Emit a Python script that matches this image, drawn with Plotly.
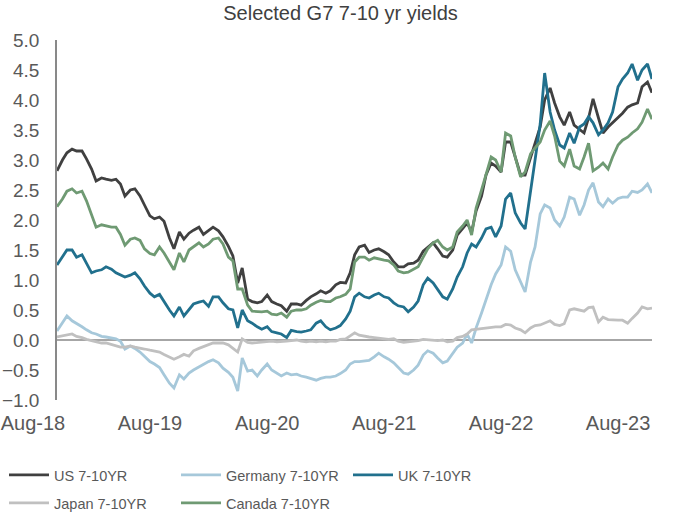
import datetime as dt
import plotly.graph_objects as go

# semi-monthly observation dates (15th and 1st), Aug-2018 .. Sep-2023
dates = []
y, m = 2018, 8
while len(dates) < 123:
    dates.append(dt.date(y, m, 15))
    m += 1
    if m > 12:
        m, y = 1, y + 1
    if len(dates) < 123:
        dates.append(dt.date(y, m, 1))

us = [2.82, 3.00, 3.12, 3.18, 3.15, 3.15, 3.02, 2.85, 2.65, 2.70,
      2.68, 2.66, 2.68, 2.60, 2.40, 2.50, 2.52, 2.40, 2.25, 2.07,
      2.02, 2.05, 1.98, 1.70, 1.52, 1.80, 1.68, 1.78, 1.83, 1.88,
      1.76, 1.83, 1.88, 1.82, 1.72, 1.56, 1.40, 0.95, 1.20, 0.68,
      0.64, 0.62, 0.64, 0.75, 0.64, 0.60, 0.57, 0.48, 0.60, 0.60,
      0.58, 0.66, 0.72, 0.77, 0.82, 0.78, 0.82, 0.92, 0.96, 0.95,
      1.12, 1.42, 1.55, 1.58, 1.46, 1.50, 1.52, 1.47, 1.42, 1.30,
      1.22, 1.22, 1.27, 1.28, 1.33, 1.48, 1.55, 1.62, 1.52, 1.40,
      1.38, 1.50, 1.75, 1.85, 1.95, 1.80, 2.15, 2.40, 2.75, 2.95,
      2.90, 2.80, 3.30, 3.30, 3.05, 2.75, 2.75, 3.05, 3.30, 3.55,
      4.00, 4.20, 3.95, 3.72, 3.58, 3.80, 3.58, 3.50, 3.45, 3.70,
      4.02, 3.70, 3.45, 3.55, 3.62, 3.70, 3.78, 3.88, 3.92, 3.95,
      4.22, 4.30, 4.12]

germany = [0.15, 0.30, 0.40, 0.32, 0.28, 0.22, 0.17, 0.12, 0.10, 0.06,
           0.05, 0.03, 0.02, -0.02, -0.15, -0.10, -0.14, -0.20, -0.28, -0.36,
           -0.40, -0.46, -0.58, -0.72, -0.80, -0.58, -0.65, -0.55, -0.50, -0.45,
           -0.40, -0.36, -0.33, -0.38, -0.47, -0.54, -0.62, -0.85, -0.30, -0.52,
           -0.50, -0.60, -0.50, -0.40, -0.50, -0.55, -0.60, -0.55, -0.58, -0.57,
           -0.60, -0.62, -0.64, -0.67, -0.64, -0.62, -0.62, -0.60, -0.56, -0.50,
           -0.40, -0.36, -0.36, -0.35, -0.34, -0.28, -0.22, -0.28, -0.32, -0.38,
           -0.45, -0.55, -0.57, -0.50, -0.42, -0.25, -0.18, -0.22, -0.30, -0.38,
           -0.35, -0.22, -0.12, -0.05, 0.10, -0.05, 0.20, 0.45, 0.68, 0.92,
           1.10, 1.25, 1.55, 1.48, 1.17, 0.95, 0.80, 1.30, 1.55, 2.10,
           2.25, 2.20, 2.00, 1.90, 2.05, 2.38, 2.35, 2.08, 2.25, 2.50,
           2.62, 2.30, 2.22, 2.35, 2.28, 2.36, 2.38, 2.38, 2.48, 2.46,
           2.50, 2.60, 2.45]

uk = [1.25, 1.38, 1.50, 1.50, 1.38, 1.42, 1.28, 1.12, 1.15, 1.17,
      1.22, 1.18, 1.12, 1.08, 1.05, 1.08, 1.12, 1.02, 0.90, 0.78,
      0.72, 0.76, 0.64, 0.50, 0.40, 0.55, 0.40, 0.50, 0.60, 0.63,
      0.65, 0.56, 0.72, 0.72, 0.62, 0.52, 0.50, 0.20, 0.50, 0.32,
      0.28, 0.22, 0.18, 0.22, 0.14, 0.12, 0.10, 0.04, 0.16, 0.14,
      0.13, 0.15, 0.17, 0.28, 0.32, 0.22, 0.17, 0.20, 0.24, 0.35,
      0.48, 0.72, 0.78, 0.72, 0.70, 0.75, 0.78, 0.72, 0.70, 0.62,
      0.57, 0.55, 0.47, 0.55, 0.65, 0.92, 1.03, 0.95, 0.85, 0.72,
      0.68, 0.85, 1.05, 1.22, 1.45, 1.60, 1.55, 1.70, 1.85, 1.88,
      1.72, 1.90, 2.35, 2.45, 2.12, 1.95, 1.85, 2.45, 3.00, 3.60,
      4.45, 3.80, 3.50, 3.25, 3.20, 3.45, 3.28, 3.55, 3.60, 3.72,
      3.62, 3.42, 3.50, 3.62, 3.80, 4.22, 4.35, 4.45, 4.60, 4.33,
      4.50, 4.60, 4.35]

japan = [0.05, 0.07, 0.09, 0.10, 0.06, 0.04, 0.01, -0.01, -0.04, -0.05,
         -0.05, -0.08, -0.10, -0.12, -0.12, -0.10, -0.12, -0.13, -0.15, -0.17,
         -0.19, -0.20, -0.24, -0.28, -0.32, -0.28, -0.24, -0.27, -0.18, -0.14,
         -0.11, -0.08, -0.05, -0.05, -0.05, -0.08, -0.14, -0.20, 0.02, -0.04,
         -0.05, -0.04, -0.03, -0.03, -0.02, -0.03, -0.03, -0.02, -0.01, 0.00,
         -0.02, -0.03, -0.02, -0.03, -0.02, -0.03, -0.02, -0.02, 0.01, 0.02,
         0.07, 0.12, 0.08, 0.06, 0.05, 0.04, 0.03, 0.02, 0.01, 0.02,
         -0.02, -0.04, -0.03, -0.03, -0.01, 0.01, 0.00, -0.01, -0.01, 0.00,
         -0.03, -0.02, 0.04, 0.06, 0.10, 0.17, 0.18, 0.20, 0.21, 0.22,
         0.22, 0.22, 0.26, 0.25, 0.20, 0.17, 0.12, 0.20, 0.24, 0.25,
         0.28, 0.32, 0.26, 0.24, 0.27, 0.50, 0.52, 0.50, 0.48, 0.54,
         0.55, 0.30, 0.38, 0.34, 0.33, 0.33, 0.33, 0.28, 0.36, 0.45,
         0.55, 0.52, 0.53]

canada = [2.22, 2.35, 2.48, 2.52, 2.45, 2.48, 2.32, 2.10, 1.88, 1.92,
          1.90, 1.88, 1.88, 1.76, 1.58, 1.68, 1.70, 1.66, 1.52, 1.44,
          1.42, 1.55, 1.45, 1.30, 1.17, 1.45, 1.30, 1.50, 1.56, 1.62,
          1.55, 1.60, 1.68, 1.70, 1.60, 1.38, 1.32, 0.85, 0.85, 0.58,
          0.48, 0.47, 0.47, 0.48, 0.43, 0.42, 0.45, 0.38, 0.48, 0.50,
          0.50, 0.52, 0.58, 0.63, 0.66, 0.64, 0.64, 0.70, 0.72, 0.76,
          0.85, 1.30, 1.38, 1.38, 1.33, 1.37, 1.35, 1.33, 1.32, 1.25,
          1.15, 1.12, 1.13, 1.18, 1.22, 1.38, 1.52, 1.62, 1.66, 1.55,
          1.50, 1.55, 1.80, 1.90, 2.00, 1.75, 2.20, 2.50, 2.75, 3.05,
          3.00, 2.80, 3.45, 3.40, 3.05, 2.72, 2.80, 3.10, 3.20, 3.30,
          3.50, 3.65, 3.40, 2.98, 2.90, 3.18, 2.90, 2.85, 3.05, 3.28,
          2.82, 2.88, 2.95, 2.85, 3.05, 3.25, 3.33, 3.38, 3.45, 3.52,
          3.63, 3.85, 3.68]

series_names = ["US 7-10YR", "Germany 7-10YR", "UK 7-10YR", "Japan 7-10YR", "Canada 7-10YR"]
series_values = [us, germany, uk, japan, canada]
series_colors = ["#404040", "#A6C8DA", "#21708D", "#C0C0C0", "#6F9A73"]
legend_rows = ["legend", "legend", "legend", "legend2", "legend2"]

year_ticks = [dt.date(yr, 8, 15) for yr in range(2018, 2024)]

W, H = 681, 518
FONT = "Liberation Sans, Arial, sans-serif"
fig = go.Figure()
for name, vals, col, lg in zip(series_names, series_values, series_colors, legend_rows):
    fig.add_trace(go.Scatter(x=dates, y=vals, mode="lines", name=name, legend=lg,
                             line=dict(color=col, width=2.8)))

# carrier for the category-label axis (no visible marks)
fig.add_trace(go.Scatter(x=year_ticks, y=[None] * len(year_ticks), xaxis="x2", yaxis="y",
                         mode="lines", showlegend=False, hoverinfo="skip"))

legend_common = dict(orientation="h", x=4 / W, xanchor="left", yanchor="middle",
                     font=dict(family=FONT, size=14.5, color="#595959"),
                     entrywidth=117, itemwidth=40, bgcolor="rgba(0,0,0,0)")
fig.update_layout(
    width=W, height=H,
    margin=dict(l=0, r=0, t=40, b=118, autoexpand=False),
    paper_bgcolor="white", plot_bgcolor="rgba(0,0,0,0)",
    title=dict(text="Selected G7 7-10 yr yields", x=0.5, xanchor="center", y=0.975, yanchor="middle",
               font=dict(family=FONT, size=20, color="#404040")),
    showlegend=True,
    legend=dict(legend_common, y=-75 / 360),
    legend2=dict(legend_common, y=-103 / 360),
    xaxis=dict(type="date", domain=[57 / W, 652 / W], range=[dates[0], dates[-1]],
               showticklabels=False, showgrid=False, zeroline=False, showline=False, ticks=""),
    xaxis2=dict(type="date", domain=[33 / W, 628 / W], range=[dates[0], dates[-1]], anchor="y",
                tickvals=year_ticks, tickformat="%b-%y", showgrid=False, zeroline=False,
                showline=False, ticks="", ticklabelstandoff=9,
                tickfont=dict(family=FONT, size=20, color="#595959")),
    yaxis=dict(range=[-1, 5], dtick=0.5, tick0=0, tickformat=".1f", showgrid=False, zeroline=False,
               showline=True, linecolor="#898989", linewidth=1.5, ticks="", ticklabelstandoff=12,
               tickfont=dict(family=FONT, size=19, color="#595959")),
    shapes=[dict(type="line", xref="x domain", x0=0, x1=1, yref="y", y0=0, y1=0,
                 line=dict(color="#898989", width=1.5), layer="below")],
)

fig.write_html("out.html", config={"displayModeBar": False},
               post_script="document.body.style.margin='0px';")
